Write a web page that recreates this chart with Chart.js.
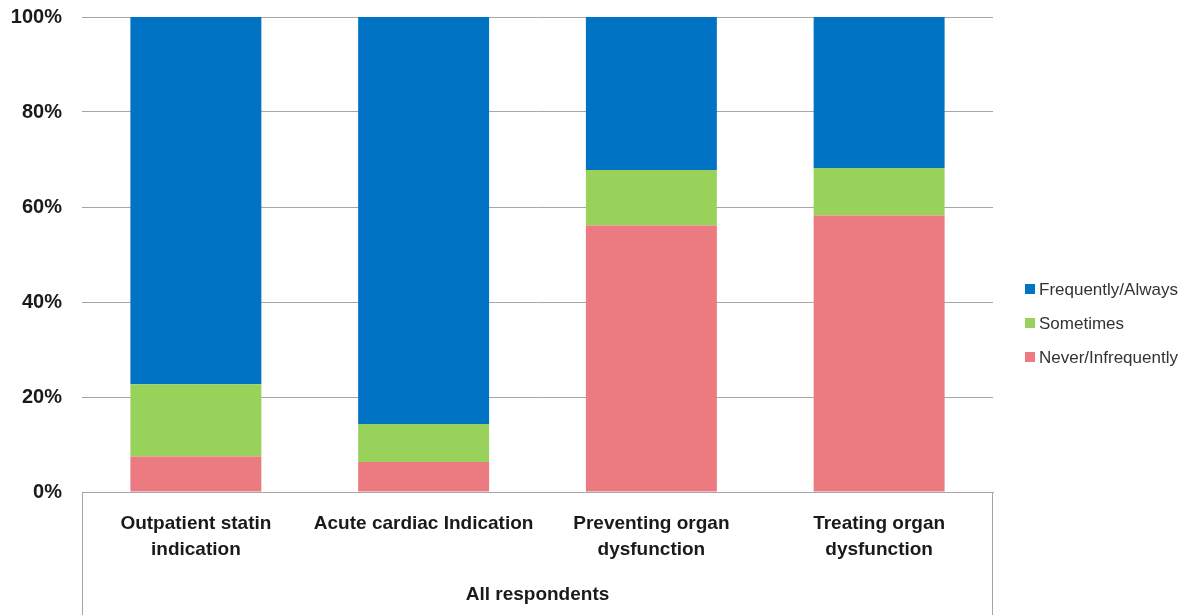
<!DOCTYPE html>
<html>
<head>
<meta charset="utf-8">
<script src="https://cdn.jsdelivr.net/npm/chart.js@4.4.1/dist/chart.umd.min.js"></script>
<style>
  html, body { margin: 0; padding: 0; background: #fff; }
  #wrap { width: 1200px; height: 615px; position: relative; }
</style>
</head>
<body>
<div id="wrap"><canvas id="chart" width="1200" height="615"></canvas></div>
<script>
// categories (two-line labels as in the original)
const categories = [
    ['Outpatient statin', 'indication'],
    ['Acute cardiac Indication'],
    ['Preventing organ', 'dysfunction'],
    ['Treating organ', 'dysfunction']
];
const groupLabel = 'All respondents';

// percentages
const neverInfrequently = [7.5, 6.3, 56.1, 58.2];
const sometimes = [15.2, 8.0, 11.7, 10.0];
const frequentlyAlways = [77.3, 85.7, 32.2, 31.8];

const yTicks = [0, 20, 40, 60, 80, 100];

const grey = '#a6a6a6';
const fontFam = '"Liberation Sans", Arial, sans-serif';

// legend on the right + box under the axis
const extras = {
    id: 'extras',
    afterDraw(chart) {
        const ctx = chart.ctx;
        const a = chart.chartArea;
        ctx.save();
        ctx.strokeStyle = grey;
        ctx.lineWidth = 1;
        ctx.beginPath();
        ctx.moveTo(a.left + 0.5, a.bottom);
        ctx.lineTo(a.left + 0.5, chart.height);
        ctx.moveTo(a.right - 0.5, a.bottom);
        ctx.lineTo(a.right - 0.5, chart.height);
        ctx.stroke();

        // legend, top item = last dataset
        const ds = chart.data.datasets.slice().reverse();
        ctx.font = '17px ' + fontFam;
        ctx.textBaseline = 'middle';
        ctx.textAlign = 'left';
        ds.forEach((d, i) => {
            const y = 289 + i * 34;
            ctx.fillStyle = d.backgroundColor;
            ctx.fillRect(1025, y - 5, 10, 10);
            ctx.fillStyle = '#333';
            ctx.fillText(d.label, 1039, y + 1);
        });
        ctx.restore();
    }
};

new Chart(document.getElementById('chart').getContext('2d'), {
    type: 'bar',
    data: {
        labels: categories,
        datasets: [
            { label: 'Never/Infrequently', data: neverInfrequently, backgroundColor: '#ec7b81' },
            { label: 'Sometimes', data: sometimes, backgroundColor: '#98d25a' },
            { label: 'Frequently/Always', data: frequentlyAlways, backgroundColor: '#0073c4' }
        ]
    },
    options: {
        responsive: false,
        animation: false,
        layout: { padding: { left: 0, right: 207, top: 17, bottom: 0 } },
        datasets: { bar: { categoryPercentage: 1, barPercentage: 0.575 } },
        plugins: { legend: { display: false }, tooltip: { enabled: false } },
        scales: {
            x: {
                stacked: true,
                grid: { display: false, drawTicks: false },
                border: { display: true, color: grey },
                ticks: {
                    color: '#1a1a1a',
                    padding: 19,
                    maxRotation: 0,
                    font: { family: fontFam, size: 19, weight: 'bold', lineHeight: 26 / 19 }
                },
                title: {
                    display: true,
                    text: groupLabel,
                    color: '#1a1a1a',
                    padding: { top: 0, bottom: 9 },
                    font: { family: fontFam, size: 19, weight: 'bold', lineHeight: 1.2 }
                },
                afterFit(s) { s.height = 123; s.paddingLeft = 0; s.paddingRight = 0; }
            },
            y: {
                stacked: true,
                min: 0,
                max: 100,
                afterBuildTicks(s) { s.ticks = yTicks.map(v => ({ value: v })); },
                grid: { color: grey, drawTicks: false },
                border: { display: false },
                ticks: {
                    color: '#1a1a1a',
                    padding: 20,
                    font: { family: fontFam, size: 20, weight: 'bold' },
                    callback: v => v + '%'
                },
                afterFit(s) { s.width = 82; s.paddingTop = 0; s.paddingBottom = 0; }
            }
        }
    },
    plugins: [extras]
});
</script>
</body>
</html>
